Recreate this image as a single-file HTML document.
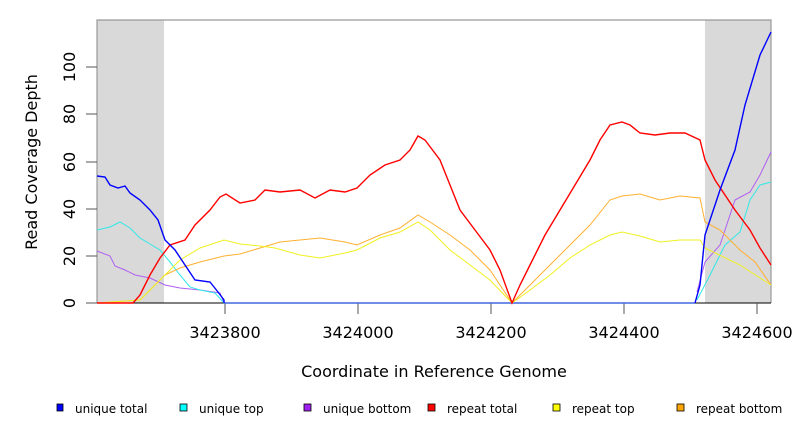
<!DOCTYPE html>
<html><head><meta charset="utf-8"><style>body{margin:0;background:#fff}svg{display:block;font-family:"DejaVu Sans","Liberation Sans",sans-serif}</style></head><body>
<svg width="792" height="432" viewBox="0 0 792 432">
<rect x="97" y="20" width="67" height="283" fill="#d9d9d9"/>
<rect x="705" y="20" width="66" height="283" fill="#d9d9d9"/>
<polyline points="97,303 97,20 771,20 771,303" fill="none" stroke="#999" stroke-width="1.2"/>
<line x1="97" y1="303" x2="771" y2="303" stroke="#000" stroke-width="1"/>
<g stroke="#555" stroke-width="1">
<line x1="225" y1="303" x2="225" y2="314"/><line x1="358" y1="303" x2="358" y2="314"/><line x1="491" y1="303" x2="491" y2="314"/><line x1="624" y1="303" x2="624" y2="314"/><line x1="757" y1="303" x2="757" y2="314"/>
<line x1="86" y1="303" x2="97" y2="303"/><line x1="86" y1="256" x2="97" y2="256"/><line x1="86" y1="209" x2="97" y2="209"/><line x1="86" y1="162" x2="97" y2="162"/><line x1="86" y1="114" x2="97" y2="114"/><line x1="86" y1="67" x2="97" y2="67"/>
</g>
<g font-size="16" text-anchor="middle" fill="#000">
<text x="225" y="338">3423800</text><text x="358" y="338">3424000</text><text x="491" y="338">3424200</text><text x="624" y="338">3424400</text><text x="757" y="338">3424600</text>
<text x="434" y="377">Coordinate in Reference Genome</text>
<g transform="translate(75,0)">
<text transform="translate(0,303) rotate(-90)">0</text><text transform="translate(0,256) rotate(-90)">20</text><text transform="translate(0,209) rotate(-90)">40</text><text transform="translate(0,162) rotate(-90)">60</text><text transform="translate(0,114) rotate(-90)">80</text><text transform="translate(0,67) rotate(-90)">100</text>
</g>
<text transform="translate(37,162) rotate(-90)">Read Coverage Depth</text>
</g>
<g fill="none" stroke-width="1">
<polyline stroke="#4169e1" stroke-width="1.5" points="224,303 695,303"/>
<polyline stroke="#b060f0" points="97,251 110,256 115,266 125,270 135,275 150,278 165,285 180,288 200,290 220,293 224,303"/>
<polyline stroke="#b060f0" points="697,292 705,262 720,245 735,200 750,192 760,175 771,152"/>
<polyline stroke="#30e8e8" points="97,230 110,227 120,222 130,228 140,238 150,244 160,250 170,262 180,275 190,287 200,290 215,293 224,303"/>
<polyline stroke="#30e8e8" points="697,300 710,275 725,245 740,232 750,200 760,185 771,182"/>
<polyline stroke="#ffb030" points="97,303 140,300 150,290 165,275 180,268 200,262 224,256 240,254 260,248 280,242 300,240 320,238 345,242 357,245 380,235 400,228 418,215 430,222 450,235 470,250 490,270 512,303 530,285 550,265 570,245 590,225 610,200 622,196 640,194 660,200 680,196 700,198 705,222 720,230 740,250 755,262 771,285"/>
<polyline stroke="#f0f020" points="97,303 140,300 150,290 165,275 180,260 200,248 224,240 240,244 260,246 275,248 300,255 320,258 345,253 357,250 380,238 400,232 418,222 430,230 450,250 470,265 490,280 512,303 530,290 550,275 570,258 590,245 610,235 622,232 640,236 660,242 680,240 700,240 705,248 740,265 771,285"/>
<polyline stroke="#ff0000" stroke-width="1.4" points="97,303 133,303 140,295 150,275 160,258 170,245 185,240 195,225 210,210 220,197 226,194 240,203 255,200 265,190 280,192 300,190 315,198 330,190 345,192 357,188 370,175 385,165 400,160 410,150 418,136 425,140 440,160 450,185 460,210 475,230 490,250 500,270 512,303 520,285 530,265 545,235 560,210 575,185 590,160 600,140 610,125 622,122 630,125 640,133 655,135 670,133 685,133 700,140 705,160 715,180 725,195 735,210 750,230 760,248 771,265"/>
<polyline stroke="#0000ff" stroke-width="1.4" points="97,176 105,177 110,185 118,188 125,186 130,193 140,200 150,210 158,220 165,240 175,250 185,265 195,280 210,282 218,292 224,300 224,303"/>
<polyline stroke="#0000ff" stroke-width="1.4" points="695,303 700,285 705,235 720,190 735,150 745,105 760,55 771,32"/>
</g>
<g font-size="12" fill="#000" stroke="#000" stroke-width="0.8">
<rect x="57" y="404" width="6" height="7" fill="#0000ff"/><rect x="180" y="404" width="7" height="7" fill="#00ffff"/><rect x="304" y="404" width="7" height="7" fill="#a020f0"/><rect x="428" y="404" width="7" height="7" fill="#ff0000"/><rect x="553" y="404" width="7" height="7" fill="#ffff00"/><rect x="677" y="404" width="7" height="7" fill="#ffa500"/>
<g stroke="none"><text x="75" y="413">unique total</text><text x="199" y="413">unique top</text><text x="323" y="413">unique bottom</text><text x="447" y="413">repeat total</text><text x="572" y="413">repeat top</text><text x="696" y="413">repeat bottom</text></g>
</g>
</svg>
</body></html>
